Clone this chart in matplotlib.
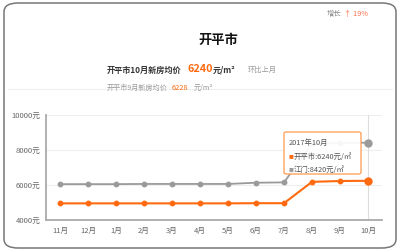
import matplotlib
matplotlib.use("Agg")
import matplotlib.pyplot as plt
from matplotlib.patches import FancyBboxPatch

plt.rcParams['font.family'] = ['Noto Sans CJK SC', 'DejaVu Sans']

# data
months = ['11月', '12月', '1月', '2月', '3月', '4月', '5月', '6月', '7月', '8月', '9月', '10月']
kaiping = [4950, 4950, 4950, 4950, 4950, 4950, 4950, 4960, 4960, 6180, 6228, 6240]
jiangmen = [6050, 6050, 6050, 6060, 6060, 6060, 6060, 6130, 6150, 8350, 8400, 8420]
yticks = [4000, 6000, 8000, 10000]
city = '开平市'
growth = '19%'

ORANGE = '#ff6a10'
GRAY = '#9a9a9a'
W, H = 400, 253


def px(x, y):
    return x / W, 1 - y / H


fig = plt.figure(figsize=(4, 2.53), dpi=100)

# card frame
card = FancyBboxPatch(px(4, 249), (W - 8) / W, (H - 8) / H,
                      boxstyle="round,pad=0,rounding_size=0.035",
                      transform=fig.transFigure, fc='white', ec='#777777', lw=1.1,
                      zorder=-5)
fig.patches.append(card)
fig.add_artist(plt.Line2D([8 / W, 392 / W], [1 - 90 / H] * 2, color='#eeeeee',
                          lw=0.8, zorder=-4))

# header texts
fig.text(*px(327, 14), '增长', fontsize=5.3, color='#888888', va='center')
fig.text(*px(344, 14), '↑ ' + growth, fontsize=5.3, color='#ff6f4a', va='center')
fig.text(*px(218, 40), city, fontsize=9.5, fontweight='bold', color='#111111',
         ha='center', va='center')
fig.text(*px(107, 70), f'{city}10月新房均价', fontsize=5.9, fontweight='bold',
         color='#333333', va='center')
fig.text(*px(187, 69), f'{kaiping[-1]}', fontsize=7.8, fontweight='bold',
         color=ORANGE, va='center')
fig.text(*px(213, 70), '元/m²', fontsize=5.9, fontweight='bold', color='#333333',
         va='center')
fig.text(*px(248, 70), '环比上月', fontsize=5.2, color='#999999', va='center')
fig.text(*px(107, 88), f'{city}9月新房均价', fontsize=5.1, color='#999999', va='center')
fig.text(*px(172, 88), f'{kaiping[-2]}', fontsize=5.3, color=ORANGE, va='center')
fig.text(*px(194, 88), '元/m²', fontsize=5.1, color='#999999', va='center')

# chart
ax = fig.add_axes([46 / W, 32 / H, 336 / W, 105 / H])
ax.patch.set_alpha(0)
x = list(range(len(months)))
ax.plot(x, jiangmen, color=GRAY, lw=1.3, marker='o', ms=3.2, zorder=3)
ax.plot(x, kaiping, color=ORANGE, lw=1.5, marker='o', ms=3.2, zorder=4)
ax.plot(x[-1], jiangmen[-1], 'o', color=GRAY, ms=5, zorder=5)
ax.plot(x[-1], kaiping[-1], 'o', color=ORANGE, ms=5, zorder=5)
ax.axvline(x[-1], color='#dddddd', lw=0.8, zorder=1)

ax.set_xlim(-0.5, len(months) - 0.5)
ax.set_ylim(yticks[0], yticks[-1])
ax.set_yticks(yticks)
ax.set_yticklabels([f'{v}元' for v in yticks])
ax.set_xticks(x)
ax.set_xticklabels(months)
ax.tick_params(axis='both', length=0, labelsize=5.5, labelcolor='#666666', pad=4)
ax.grid(axis='y', color='#eeeeee', lw=0.8)
ax.set_axisbelow(True)
for s in ['top', 'right']:
    ax.spines[s].set_visible(False)
for s in ['left', 'bottom']:
    ax.spines[s].set_color('#aaaaaa')
    ax.spines[s].set_linewidth(1.3)

# tooltip
tip = FancyBboxPatch(px(284, 175), 77 / W, 42 / H,
                     boxstyle="round,pad=0,rounding_size=0.006",
                     transform=fig.transFigure, fc=(1, 1, 1, 0.93), ec='#ff9a50',
                     lw=0.9, zorder=10)
fig.patches.append(tip)
fig.text(*px(289, 143), f'2017年{months[-1]}', fontsize=5.3, color='#555555',
         va='center', zorder=11)
fig.text(*px(289, 157), '■', fontsize=3.5, color=ORANGE, va='center', zorder=11)
fig.text(*px(294, 157), f'{city}:{kaiping[-1]}元/㎡', fontsize=5.3, color='#555555',
         va='center', zorder=11)
fig.text(*px(289, 170), '■', fontsize=3.5, color=GRAY, va='center', zorder=11)
fig.text(*px(294, 170), f'江门:{jiangmen[-1]}元/㎡', fontsize=5.3, color='#555555',
         va='center', zorder=11)

fig.savefig('out.png', dpi=100)
